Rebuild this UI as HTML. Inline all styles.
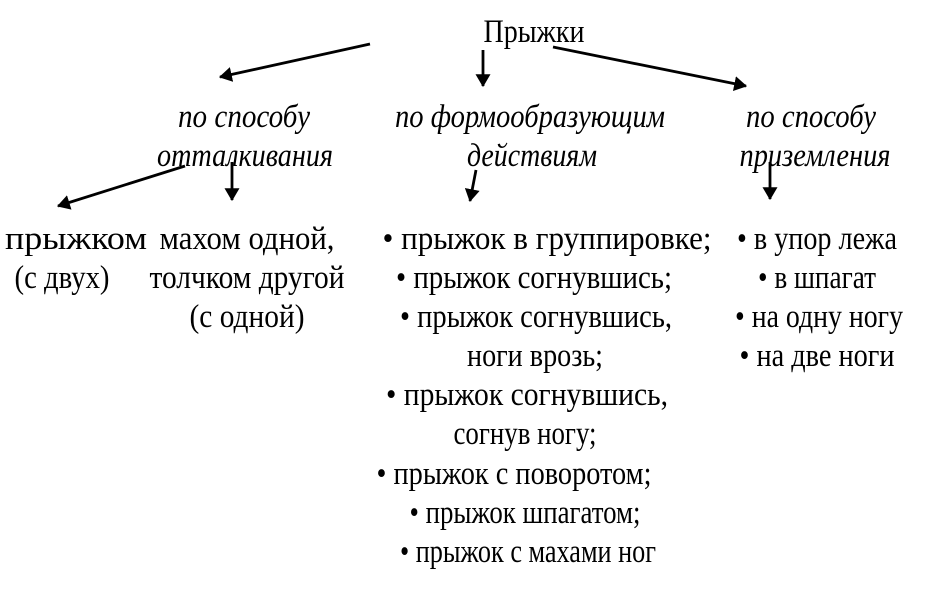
<!DOCTYPE html>
<html><head><meta charset="utf-8"><style>
html,body{margin:0;padding:0;background:#fff;}
svg{display:block;}
text{font-family:"Liberation Serif","Times New Roman",serif;font-size:33px;fill:#000;}
.i{font-style:italic;}
</style></head><body>
<svg width="929" height="590" viewBox="0 0 929 590" xmlns="http://www.w3.org/2000/svg">
<defs>
<marker id="b" viewBox="0 0 12 14" markerWidth="13" markerHeight="15" refX="11" refY="7" orient="auto" markerUnits="userSpaceOnUse"><path d="M0,0 L12,7 L0,14 z" fill="#000"/></marker></defs>
<g stroke="#000" stroke-width="2.8" fill="none" marker-end="url(#b)">
<line x1="370" y1="44" x2="220" y2="77"/>
<line x1="483" y1="50" x2="483" y2="86"/>
<line x1="553" y1="47" x2="746" y2="86"/>
<line x1="185" y1="166" x2="58" y2="206"/>
<line x1="232" y1="162" x2="232" y2="200"/>
<line x1="476" y1="170" x2="470" y2="201"/>
<line x1="770" y1="162" x2="770" y2="199"/>
</g>
<g text-anchor="middle">
<text x="534" y="42" textLength="101" lengthAdjust="spacingAndGlyphs">Прыжки</text>
<text class="i" x="244" y="127" textLength="132" lengthAdjust="spacingAndGlyphs">по способу</text>
<text class="i" x="245" y="166" textLength="176" lengthAdjust="spacingAndGlyphs">отталкивания</text>
<text class="i" x="530" y="127" textLength="270" lengthAdjust="spacingAndGlyphs">по формообразующим</text>
<text class="i" x="532" y="166" textLength="130" lengthAdjust="spacingAndGlyphs">действиям</text>
<text class="i" x="811" y="127" textLength="130" lengthAdjust="spacingAndGlyphs">по способу</text>
<text class="i" x="815" y="166" textLength="151" lengthAdjust="spacingAndGlyphs">приземления</text>

<text x="76" y="249" textLength="142" lengthAdjust="spacingAndGlyphs">прыжком</text>
<text x="62" y="288" textLength="95" lengthAdjust="spacingAndGlyphs">(с двух)</text>
<text x="247" y="249" textLength="175" lengthAdjust="spacingAndGlyphs">махом одной,</text>
<text x="247" y="288" textLength="195" lengthAdjust="spacingAndGlyphs">толчком другой</text>
<text x="247" y="327" textLength="115" lengthAdjust="spacingAndGlyphs">(с одной)</text>

<text x="547" y="249" textLength="329" lengthAdjust="spacingAndGlyphs">• прыжок в группировке;</text>
<text x="534" y="288" textLength="276" lengthAdjust="spacingAndGlyphs">• прыжок согнувшись;</text>
<text x="536" y="327" textLength="272" lengthAdjust="spacingAndGlyphs">• прыжок согнувшись,</text>
<text x="535" y="366" textLength="136" lengthAdjust="spacingAndGlyphs">ноги врозь;</text>
<text x="527" y="405" textLength="282" lengthAdjust="spacingAndGlyphs">• прыжок согнувшись,</text>
<text x="525" y="444" textLength="143" lengthAdjust="spacingAndGlyphs">согнув ногу;</text>
<text x="514" y="484" textLength="275" lengthAdjust="spacingAndGlyphs">• прыжок с поворотом;</text>
<text x="525" y="523" textLength="231" lengthAdjust="spacingAndGlyphs">• прыжок шпагатом;</text>
<text x="528" y="562" textLength="256" lengthAdjust="spacingAndGlyphs">• прыжок с махами ног</text>

<text x="817" y="249" textLength="160" lengthAdjust="spacingAndGlyphs">• в упор лежа</text>
<text x="817" y="288" textLength="118" lengthAdjust="spacingAndGlyphs">• в шпагат</text>
<text x="819" y="327" textLength="168" lengthAdjust="spacingAndGlyphs">• на одну ногу</text>
<text x="817" y="366" textLength="155" lengthAdjust="spacingAndGlyphs">• на две ноги</text>
</g>
</svg>
</body></html>
